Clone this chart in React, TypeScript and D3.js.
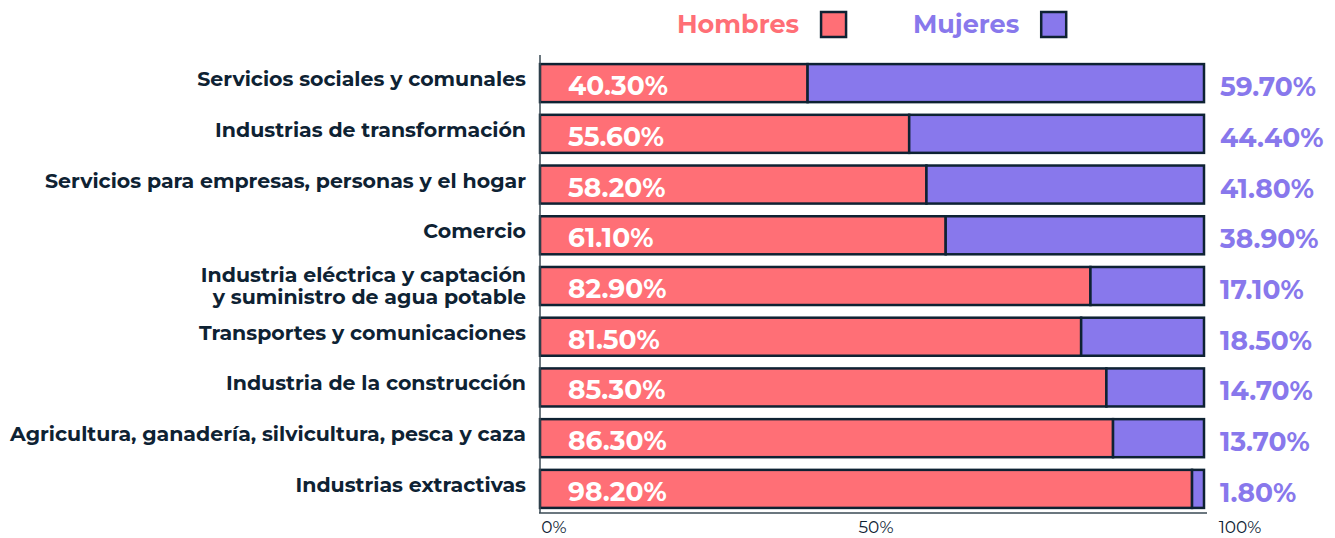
import React, { useRef, useEffect } from "react";
import * as d3 from "d3";

const categories = [
  ["Servicios sociales y comunales"],
  ["Industrias de transformación"],
  ["Servicios para empresas, personas y el hogar"],
  ["Comercio"],
  ["Industria eléctrica y captación", "y suministro de agua potable"],
  ["Transportes y comunicaciones"],
  ["Industria de la construcción"],
  ["Agricultura, ganadería, silvicultura, pesca y caza"],
  ["Industrias extractivas"],
];
const hombres = [40.3, 55.6, 58.2, 61.1, 82.9, 81.5, 85.3, 86.3, 98.2];
const mujeres = [59.7, 44.4, 41.8, 38.9, 17.1, 18.5, 14.7, 13.7, 1.8];
const tickValues = [0, 50, 100];
const legendLabels = ["Hombres", "Mujeres"];

const RED = "#ff6f76";
const PURPLE = "#8878ec";
const DARK = "#0e2233";
const FONT = "Montserrat, 'DejaVu Sans', sans-serif";

const App: React.FC = () => {
  const svgRef = useRef<SVGSVGElement | null>(null);

  useEffect(() => {
    const width = 1335;
    const height = 538;
    const svg = d3.select(svgRef.current).attr("width", width).attr("height", height);
    svg.selectAll("*").remove();

    const x = d3.scaleLinear().domain([0, 100]).range([540, 1204]);
    const y = d3
      .scaleBand<number>()
      .domain(d3.range(categories.length))
      .range([58, 514])
      .paddingInner(0.25)
      .paddingOuter(0.12);

    // legend
    const legendX = d3.scaleOrdinal<string, number>().domain(legendLabels).range([677, 913]);
    const legendColor = d3.scaleOrdinal<string, string>().domain(legendLabels).range([RED, PURPLE]);
    const lg = svg.append("g");
    legendLabels.forEach((l) => {
      const t = lg
        .append("text")
        .attr("x", legendX(l))
        .attr("y", 33)
        .style("font-family", FONT)
        .style("font-size", "25.5px")
        .style("font-weight", "700")
        .style("fill", legendColor(l))
        .text(l);
      const w = (t.node() as SVGTextElement).getComputedTextLength();
      lg.append("rect")
        .attr("x", legendX(l) + w + 22)
        .attr("y", 12)
        .attr("width", 25)
        .attr("height", 25)
        .attr("fill", legendColor(l))
        .attr("stroke", DARK)
        .attr("stroke-width", 2.5);
    });

    const rows = svg
      .append("g")
      .selectAll("g")
      .data(d3.range(categories.length))
      .enter()
      .append("g");

    // hombres
    rows
      .append("rect")
      .attr("x", x(0))
      .attr("y", (i) => y(i)!)
      .attr("width", (i) => x(hombres[i]) - x(0))
      .attr("height", y.bandwidth())
      .attr("fill", RED)
      .attr("stroke", DARK)
      .attr("stroke-width", 2.5);

    // mujeres
    rows
      .append("rect")
      .attr("x", (i) => x(hombres[i]))
      .attr("y", (i) => y(i)!)
      .attr("width", (i) => x(100) - x(hombres[i]))
      .attr("height", y.bandwidth())
      .attr("fill", PURPLE)
      .attr("stroke", DARK)
      .attr("stroke-width", 2.5);

    // hombres labels
    rows
      .append("text")
      .attr("x", x(0) + 28)
      .attr("y", (i) => y(i)! + y.bandwidth() / 2 + 12)
      .style("font-family", FONT)
      .style("font-size", "26.5px")
      .style("font-weight", "700")
      .style("fill", "#ffffff")
      .text((i) => hombres[i].toFixed(2) + "%");

    // mujeres labels
    rows
      .append("text")
      .attr("x", x(100) + 16)
      .attr("y", (i) => y(i)! + y.bandwidth() / 2 + 13)
      .style("font-family", FONT)
      .style("font-size", "26.5px")
      .style("font-weight", "700")
      .style("fill", PURPLE)
      .text((i) => mujeres[i].toFixed(2) + "%");

    // category labels
    rows.each(function (i) {
      const lines = categories[i];
      const cy = y(i)! + y.bandwidth() / 2;
      const t = d3
        .select(this)
        .append("text")
        .attr("text-anchor", "end")
        .style("font-family", FONT)
        .style("font-size", "20.5px")
        .style("font-weight", "700")
        .style("fill", DARK);
      const shift = lines.length > 1 ? 7 : 3;
      lines.forEach((ln, k) => {
        t.append("tspan")
          .attr("x", 526)
          .attr("y", cy + shift + (k - (lines.length - 1) / 2) * 22.5)
          .text(ln);
      });
    });

    // axis lines
    svg
      .append("line")
      .attr("x1", 540)
      .attr("x2", 540)
      .attr("y1", 55)
      .attr("y2", 513)
      .attr("stroke", "#3a4a55")
      .attr("stroke-width", 1.5);
    svg
      .append("line")
      .attr("x1", 539)
      .attr("x2", 1207)
      .attr("y1", 513)
      .attr("y2", 513)
      .attr("stroke", "#3a4a55")
      .attr("stroke-width", 1.5);

    const tx = d3.scaleLinear().domain([0, 50, 100]).range([554, 876, 1240]);
    svg
      .append("g")
      .selectAll("text")
      .data(tickValues)
      .enter()
      .append("text")
      .attr("x", (d) => tx(d))
      .attr("y", 533)
      .attr("text-anchor", "middle")
      .style("font-family", FONT)
      .style("font-size", "17px")
      .style("fill", DARK)
      .text((d) => d + "%");
  }, []);

  return (
    <div>
      <svg ref={svgRef} style={{ position: "absolute", left: 0, top: 0 }}></svg>
    </div>
  );
};

export default App;
